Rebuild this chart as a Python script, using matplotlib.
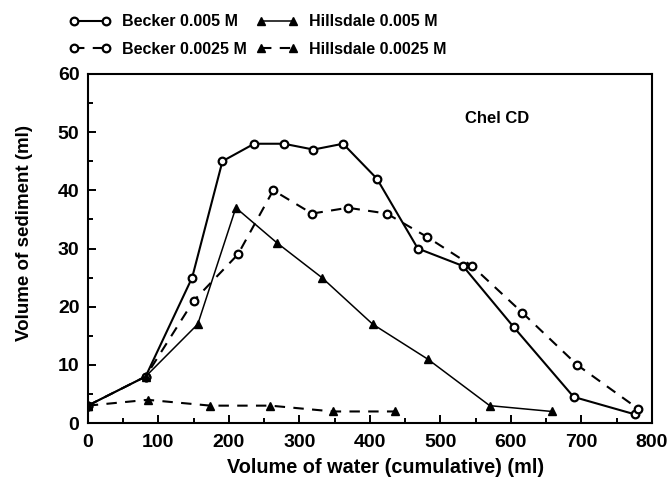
import matplotlib as mpl
import matplotlib.pyplot as plt
from matplotlib.ticker import MultipleLocator

mpl.rcParams['font.family'] = ['Liberation Sans', 'DejaVu Sans']

# Becker 0.005 M
becker1_x = [0, 82, 148, 191, 236, 278, 320, 362, 410, 468, 532, 604, 689, 776]
becker1_y = [3, 8, 25, 45, 48, 48, 47, 48, 42, 30, 27, 16.5, 4.5, 1.5]
# Becker 0.0025 M
becker2_x = [0, 82, 150, 213, 263, 318, 369, 424, 481, 545, 616, 694, 780]
becker2_y = [3, 8, 21, 29, 40, 36, 37, 36, 32, 27, 19, 10, 2.5]
# Hillsdale 0.005 M
hills1_x = [0, 82, 156, 210, 268, 332, 404, 482, 570, 658]
hills1_y = [3, 8, 17, 37, 31, 25, 17, 11, 3, 2]
# Hillsdale 0.0025 M
hills2_x = [0, 85, 174, 259, 348, 436]
hills2_y = [3, 4, 3, 3, 2, 2]

fig = plt.figure(figsize=(6.7, 4.83), dpi=100)
ax = fig.add_axes([0.131, 0.124, 0.842, 0.723])

circ = dict(marker='o', markersize=5.5, markerfacecolor='white',
            markeredgecolor='black', markeredgewidth=1.6, color='black')
tri = dict(marker='^', markersize=6, markerfacecolor='black',
           markeredgecolor='black', color='black')

ax.plot(becker1_x, becker1_y, '-', lw=1.5, label='Becker 0.005 M', **circ)
ax.plot(becker2_x, becker2_y, '--', lw=1.5, dashes=(5, 4), label='Becker 0.0025 M', **circ)
ax.plot(hills1_x, hills1_y, '-', lw=1.1, label='Hillsdale 0.005 M', **tri)
ax.plot(hills2_x, hills2_y, '--', lw=1.5, dashes=(5, 4), label='Hillsdale 0.0025 M', **tri)

ax.set_xlim(0, 800)
ax.set_ylim(0, 60)
ax.xaxis.set_major_locator(MultipleLocator(100))
ax.xaxis.set_minor_locator(MultipleLocator(50))
ax.yaxis.set_major_locator(MultipleLocator(10))
ax.yaxis.set_minor_locator(MultipleLocator(5))
ax.tick_params(which='both', direction='in', top=False, right=False, width=1.4)
ax.tick_params(which='major', length=6)
ax.tick_params(which='minor', length=3.5)
ax.tick_params(axis='x', pad=8)
ax.tick_params(axis='y', pad=6)
for lab in ax.get_xticklabels() + ax.get_yticklabels():
    lab.set_fontsize(14)
    lab.set_fontweight('bold')
for s in ax.spines.values():
    s.set_linewidth(1.5)

ax.set_xlabel('Volume of water (cumulative) (ml)', fontsize=14.3, x=0.527,
              labelpad=5, fontweight='bold')
ax.set_ylabel('Volume of sediment (ml)', fontsize=13.5, y=0.544, labelpad=18,
              fontweight='bold')
ax.text(580, 52.3, 'Chel CD', ha='center', va='center', fontsize=12,
        fontweight='bold')

leg = ax.legend(ncol=2, loc='upper left', bbox_to_anchor=(0.103, 0.97),
                bbox_transform=fig.transFigure, frameon=False, numpoints=2,
                handlelength=2.6, handletextpad=0.7, columnspacing=0.6,
                labelspacing=0.78, borderpad=0, borderaxespad=0,
                prop={'size': 11.5, 'weight': 'bold'})

fig.savefig('out.png', dpi=100)
